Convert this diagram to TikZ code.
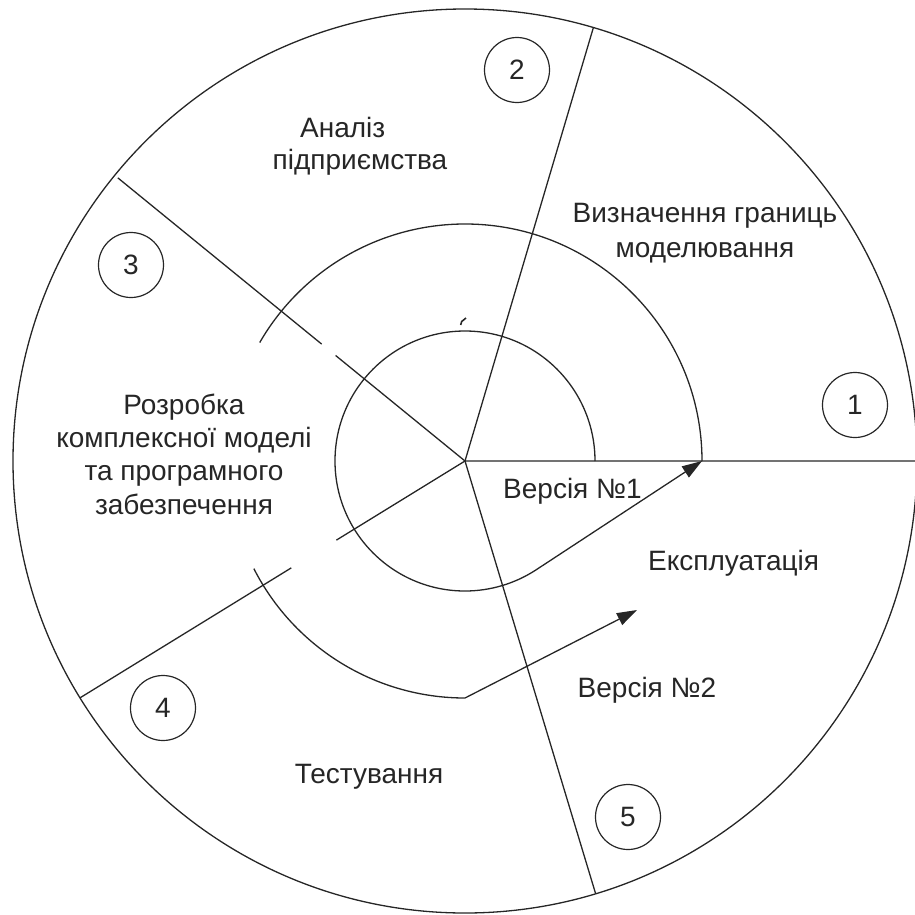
\documentclass[tikz,border=0pt]{standalone}
\usepackage{fontspec}
\setmainfont{Liberation Sans}
\usetikzlibrary{arrows.meta}
\begin{document}
\begin{tikzpicture}[x=1pt,y=1pt,
  stroke/.style={line width=1.3pt, draw=black!85},
  axisline/.style={line width=2.4pt, draw=black!55},
  lbl/.style={font=\fontsize{28}{33}\selectfont, inner sep=0pt, text=black!85},
  num/.style={circle, draw=black!85, line width=1.2pt, minimum size=65pt,
              inner sep=0pt, font=\fontsize{28}{33}\selectfont, text=black!85},
  tip/.style={-{Triangle[length=20pt,width=13pt]}}
]
\useasboundingbox (-465,-453) rectangle (450,461);
\coordinate (c) at (0,0);

% outer boundary of the cycle
\draw[stroke] (c) circle[radius=452];

% sector boundaries
\draw[axisline] (c) -- (450,0);
\draw[stroke] (c) -- (73.5:452);
\draw[stroke] (c) -- (140.8:167) (140.8:185) -- (140.8:448);
\draw[stroke] (c) -- (211.6:151) (211.6:204) -- (211.6:452);
\draw[stroke] (c) -- (-73.2:452);

% ends of the two iterations
\coordinate (v1) at (237,0);
\coordinate (v2) at (172,-149);

% first iteration
\draw[stroke, tip] (130,0) arc[start angle=0, end angle=303.27, radius=130] -- (v1);
% second iteration
\draw[stroke] (v1) arc[start angle=0, end angle=150, radius=237];
\draw[stroke, tip] (207:237) arc[start angle=207, end angle=270, radius=237] -- (v2);

% small stroke above the inner turn
\draw[line width=1.6pt, black!85] (1,143) -- (-3.3,139.5) -- (-4.3,136);

% phase numbers
\node[num] (n1) at (390,56) {1};
\node[num] (n2) at (52,391) {2};
\node[num] (n3) at (-334,196) {3};
\node[num] (n4) at (-302,-247) {4};
\node[num] (n5) at (163,-356) {5};

% phase names
\node[lbl, anchor=base west] (a1) at (-165,324) {Аналіз};
\node[lbl, anchor=base] (a2) at (-105,292) {підприємства};

\node[lbl, anchor=base] (b1) at (240,239) {Визначення границь};
\node[lbl, anchor=base] (b2) at (240,204) {моделювання};

\node[lbl, anchor=base] (d1) at (-281,47) {Розробка};
\node[lbl, anchor=base] (d2) at (-281,14) {комплексної моделі};
\node[lbl, anchor=base] (d3) at (-281,-19) {та програмного};
\node[lbl, anchor=base] (d4) at (-281,-53) {забезпечення};

\node[lbl, anchor=base west] (e1) at (38,-37) {Версія №1};
\node[lbl, anchor=base west] (ex) at (183,-109) {Експлуатація};
\node[lbl, anchor=base] (e2) at (182,-236) {Версія №2};
\node[lbl, anchor=base] (t) at (-96,-322) {Тестування};
\end{tikzpicture}
\end{document}
